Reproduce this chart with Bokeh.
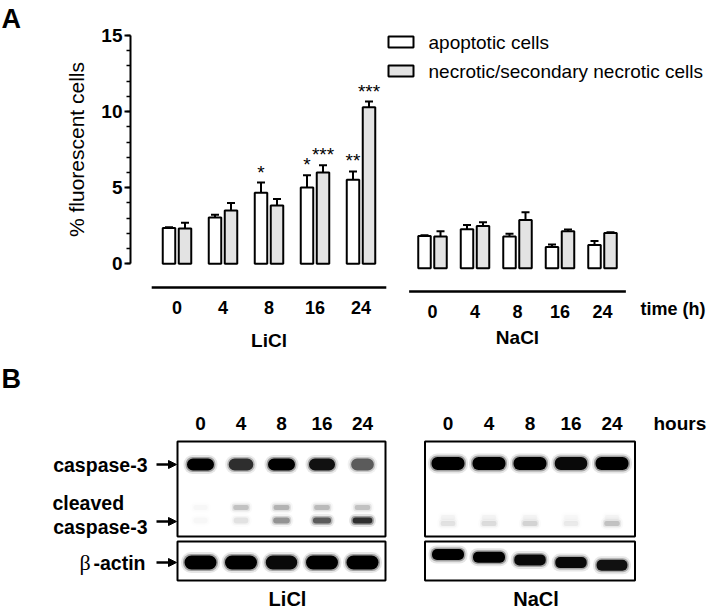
import numpy as np
from bokeh.plotting import figure
from bokeh.models import Range1d, SingleIntervalTicker, Arrow, NormalHead, LinearAxis
from bokeh.core.properties import value
from bokeh.embed import file_html
from bokeh.resources import INLINE

FONT = "Liberation Sans"

# ---------------- data ----------------
times = ["0", "4", "8", "16", "24"]
groups = ["LiCl", "NaCl"]
licl_apoptotic = [2.36, 3.04, 4.66, 5.01, 5.52]
licl_apoptotic_err = [0.04, 0.18, 0.68, 0.80, 0.55]
licl_necrotic = [2.32, 3.50, 3.83, 6.00, 10.29]
licl_necrotic_err = [0.37, 0.50, 0.42, 0.48, 0.37]
nacl_apoptotic = [2.12, 2.56, 2.08, 1.40, 1.53]
nacl_apoptotic_err = [0.04, 0.28, 0.18, 0.15, 0.26]
nacl_necrotic = [2.08, 2.78, 3.17, 2.43, 2.32]
nacl_necrotic_err = [0.35, 0.24, 0.50, 0.11, 0.04]
licl_apoptotic_sig = ["", "", "*", "*", "**"]
licl_necrotic_sig = ["", "", "", "***", "***"]
series_names = ["apoptotic cells", "necrotic/secondary necrotic cells"]

# western blot band intensities (0..1)
licl_casp = [1.0, 0.75, 1.0, 0.9, 0.55]
licl_cleaved_hi = [0.02, 0.16, 0.2, 0.18, 0.16]
licl_cleaved_lo = [0.02, 0.07, 0.3, 0.5, 0.7]
licl_actin = [1.0, 1.0, 0.95, 1.0, 1.0]
nacl_casp = [1.0, 1.0, 1.0, 0.95, 1.0]
nacl_cleaved_hi = [0.03, 0.03, 0.03, 0.02, 0.03]
nacl_cleaved_lo = [0.07, 0.09, 0.11, 0.05, 0.16]
nacl_actin = [1.0, 1.0, 0.95, 0.95, 0.9]

W, H = 709, 609
GREY = "#e3e3e3"

# page-pixel frame; chart values through an extra y range
p = figure(width=W, height=H, x_range=Range1d(0, W), y_range=Range1d(H, 0),
           output_backend="svg", toolbar_location=None, x_axis_location=None,
           y_axis_location=None, min_border=0)
p.grid.visible = False
p.outline_line_color = None
p.background_fill_color = "white"
p.border_fill_color = "white"

Y0_PX, Y15_PX = 263.3, 35.0
ppu = (Y0_PX - Y15_PX) / 15.0
v_lo = -(H - Y0_PX) / ppu
v_hi = 15 + Y15_PX / ppu
shift = 4.4 / ppu
p.extra_y_ranges = {"pct": Range1d(v_lo, v_hi), "nacl": Range1d(v_lo + shift, v_hi + shift)}

ax = LinearAxis(y_range_name="pct", fixed_location=130)
ax.bounds = (0, 15)
ax.ticker = SingleIntervalTicker(interval=5, num_minor_ticks=5)
ax.axis_line_width = 2
ax.major_tick_line_width = 2
ax.major_tick_out = 6
ax.major_tick_in = 0
ax.minor_tick_out = 4
ax.minor_tick_in = 0
ax.minor_tick_line_width = 1.5
ax.major_label_text_font = FONT
ax.major_label_text_font_style = "bold"
ax.major_label_text_font_size = "19px"
ax.major_label_text_color = "black"
ax.major_label_standoff = 2
ax.axis_label = "% fluorescent cells"
ax.axis_label_text_font = FONT
ax.axis_label_text_font_style = "normal"
ax.axis_label_text_font_size = "21px"
ax.axis_label_text_color = "black"
ax.axis_label_standoff = 10
p.add_layout(ax, "left")

lic_c = 176.5 + 46.0 * np.arange(len(times))
nac_c = 432.0 + 42.5 * np.arange(len(times))
OFF, BW, CAP = 8.0, 12.5, 4.0


def draw_series(xc, vals, errs, fill, rng):
    vals = np.array(vals)
    errs = np.array(errs)
    p.segment(x0=xc, y0=vals, x1=xc, y1=vals + errs, line_color="black", line_width=2,
              y_range_name=rng)
    p.segment(x0=xc - CAP, y0=vals + errs, x1=xc + CAP, y1=vals + errs,
              line_color="black", line_width=2, y_range_name=rng)
    p.vbar(x=xc, top=vals, bottom=0, width=BW, fill_color=fill, line_color="black",
           line_width=2, y_range_name=rng)


draw_series(lic_c - OFF, licl_apoptotic, licl_apoptotic_err, "white", "pct")
draw_series(lic_c + OFF, licl_necrotic, licl_necrotic_err, GREY, "pct")
draw_series(nac_c - OFF, nacl_apoptotic, nacl_apoptotic_err, "white", "nacl")
draw_series(nac_c + OFF, nacl_necrotic, nacl_necrotic_err, GREY, "nacl")

for xc, vals, errs, sig in [(lic_c - OFF, licl_apoptotic, licl_apoptotic_err, licl_apoptotic_sig),
                            (lic_c + OFF, licl_necrotic, licl_necrotic_err, licl_necrotic_sig)]:
    p.text(x=xc, y=np.array(vals) + np.array(errs), text=sig, text_align="center",
           text_baseline="bottom", text_font=value(FONT), text_font_size="19px",
           text_color="black", y_range_name="pct")


def txt(x, y, s, align="center", size="19px", style="bold", font=FONT, baseline="middle"):
    p.text(x=[x], y=[y], text=[s], text_align=align, text_baseline=baseline,
           text_font=value(font), text_font_style=style, text_font_size=size, text_color="black")


txt(1, 18, "A", align="left", size="27px")

# legend
for i, (name, fill) in enumerate(zip(series_names, ["white", GREY])):
    yc = 41.5 + 29 * i
    p.quad(left=[388], right=[413], top=[yc - 5.5], bottom=[yc + 5.5], fill_color=fill,
           line_color="black", line_width=2)
    txt(428, yc, name, align="left", style="normal")

# group lines, tick labels, group names
for centers, name, ly, namey, sp in [(lic_c, groups[0], 287, 340, 46.0),
                                     (nac_c, groups[1], 291, 337, 42.5)]:
    p.segment(x0=[centers[0] - 0.55 * sp], y0=[ly], x1=[centers[-1] + 0.55 * sp], y1=[ly],
              line_color="black", line_width=2.5)
    p.text(x=centers, y=[ly + 20] * len(times), text=times, text_align="center",
           text_baseline="middle", text_font=value(FONT), text_font_style="bold",
           text_font_size="18px", text_color="black")
    txt(centers[2], namey, name)

txt(640, 308, "time (h)", align="left", size="18px")

# ---------------- panel B ----------------
lane_l = 200.0 + 40.5 * np.arange(len(times))
lane_n = 447.5 + 41.0 * np.arange(len(times))

txt(1, 378, "B", align="left", size="27px")

for lanes in (lane_l, lane_n):
    p.text(x=lanes, y=[423] * len(times), text=times, text_align="center", text_baseline="middle",
           text_font=value(FONT), text_font_style="bold", text_font_size="19px", text_color="black")
    p.quad(left=[lanes[0] - 23], right=[lanes[-1] + 23], top=[441], bottom=[536],
           fill_color="white", line_color="black", line_width=2)
    p.quad(left=[lanes[0] - 23], right=[lanes[-1] + 23], top=[541], bottom=[580],
           fill_color="white", line_color="black", line_width=2)
txt(653, 423, "hours", align="left")


def bands(xs, ys, inten, base_w, h, halo=1.0):
    inten = np.array(inten, dtype=float)
    ys = np.array(ys, dtype=float)
    w = base_w * (0.65 + 0.35 * inten)
    for pad, a in ((3.5, 0.10), (1.5, 0.30)):
        p.quad(left=xs - w / 2 - pad, right=xs + w / 2 + pad, top=ys - h / 2 - pad,
               bottom=ys + h / 2 + pad, fill_color="black",
               fill_alpha=list(np.clip(halo * a * inten, 0, 1)), line_color=None,
               border_radius=int(h // 2 + pad))
    p.quad(left=xs - w / 2, right=xs + w / 2, top=ys - h / 2, bottom=ys + h / 2,
           fill_color="black", fill_alpha=list(np.clip(inten, 0, 1)), line_color=None,
           border_radius=int(h // 2))


n = len(times)
bands(lane_l, [464] * n, licl_casp, 27, 12)
bands(lane_l, [507] * n, licl_cleaved_hi, 22, 5, halo=1.5)
bands(lane_l, [520] * n, licl_cleaved_lo, 22, 6, halo=1.5)
bands(lane_l, [562] * n, licl_actin, 32, 14)
bands(lane_n, [463] * n, nacl_casp, 33, 13)
bands(lane_n, [517] * n, nacl_cleaved_hi, 22, 5, halo=1.5)
bands(lane_n, [523] * n, nacl_cleaved_lo, 22, 5, halo=1.5)
bands(lane_n, 554 + 2.7 * np.arange(n), nacl_actin, 32, 11)

# row labels with arrows
txt(147, 464, "caspase-3", align="right", size="19.5px")
txt(52, 502, "cleaved", align="left", size="19.5px")
txt(147, 526, "caspase-3", align="right", size="19.5px")
txt(93, 562, "-actin", align="left", size="19.5px")
txt(79, 562, "β", align="left", size="22px", style="normal", font="Liberation Serif")
for ya in (464, 521, 562):
    p.add_layout(Arrow(end=NormalHead(size=8, fill_color="black", line_color="black", line_width=1),
                       x_start=156, y_start=ya, x_end=176, y_end=ya,
                       line_color="black", line_width=2.5))

txt((lane_l[0] + lane_l[-1]) / 2 + 6, 598, groups[0], size="20px")
txt((lane_n[0] + lane_n[-1]) / 2 + 6, 598, groups[1], size="20px")

open("out.html", "w").write(file_html(p, INLINE))
